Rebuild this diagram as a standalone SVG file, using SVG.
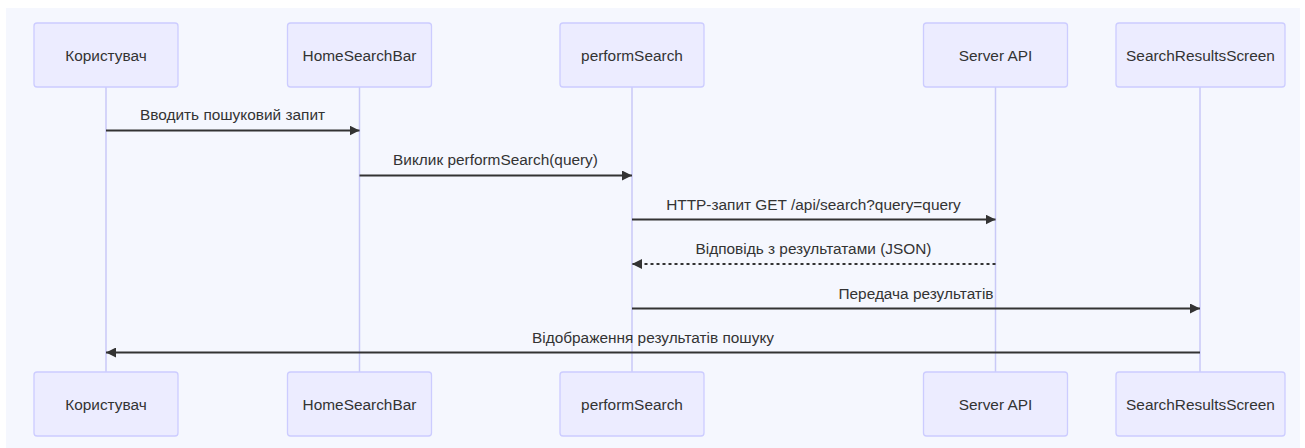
<svg xmlns="http://www.w3.org/2000/svg" width="1305" height="448" viewBox="0 0 1305 448">
<style>
.actor{fill:#ececff;stroke:#ccccff;stroke-width:1.3}
.atext{font-family:"Liberation Sans",Arial,sans-serif;font-size:15.4px;fill:#333;text-anchor:middle}
.mtext{font-family:"Liberation Sans",Arial,sans-serif;font-size:15.4px;fill:#333;text-anchor:middle}
.life{stroke:#c9c9f7;stroke-width:1.5;fill:none}
.msg{stroke:#333;stroke-width:1.9;fill:none}
.dash{stroke-dasharray:3,3}
</style>
<defs>
<marker id="arrow" viewBox="0 0 10 10" refX="10" refY="5" markerWidth="10" markerHeight="10" markerUnits="userSpaceOnUse" orient="auto">
<path d="M0,0 L10,5 L0,10 z" fill="#333"/>
</marker>
</defs>
<rect x="0" y="0" width="1305" height="448" fill="#ffffff"/>
<rect x="6" y="8" width="1294" height="440" fill="#f5f7fe"/>
<g id="lifelines">
<line class="life" x1="106" y1="87" x2="106" y2="372"/>
<line class="life" x1="359.5" y1="87" x2="359.5" y2="372"/>
<line class="life" x1="632" y1="87" x2="632" y2="372"/>
<line class="life" x1="995.5" y1="87" x2="995.5" y2="372"/>
<line class="life" x1="1200" y1="87" x2="1200" y2="372"/>
</g>
<g id="actor-user">
<rect class="actor" x="34" y="23" width="144" height="64" rx="3"/>
<text class="atext" x="106" y="60.5">Користувач</text>
<rect class="actor" x="34" y="372" width="144" height="64" rx="3"/>
<text class="atext" x="106" y="409.5">Користувач</text>
</g>
<g id="actor-homesearchbar">
<rect class="actor" x="287.5" y="23" width="144" height="64" rx="3"/>
<text class="atext" x="359.5" y="60.5">HomeSearchBar</text>
<rect class="actor" x="287.5" y="372" width="144" height="64" rx="3"/>
<text class="atext" x="359.5" y="409.5">HomeSearchBar</text>
</g>
<g id="actor-performsearch">
<rect class="actor" x="560" y="23" width="144" height="64" rx="3"/>
<text class="atext" x="632" y="60.5">performSearch</text>
<rect class="actor" x="560" y="372" width="144" height="64" rx="3"/>
<text class="atext" x="632" y="409.5">performSearch</text>
</g>
<g id="actor-serverapi">
<rect class="actor" x="923.5" y="23" width="144" height="64" rx="3"/>
<text class="atext" x="995.5" y="60.5">Server API</text>
<rect class="actor" x="923.5" y="372" width="144" height="64" rx="3"/>
<text class="atext" x="995.5" y="409.5">Server API</text>
</g>
<g id="actor-searchresultsscreen">
<rect class="actor" x="1116" y="23" width="169" height="64" rx="3"/>
<text class="atext" x="1200.5" y="60.5">SearchResultsScreen</text>
<rect class="actor" x="1116" y="372" width="169" height="64" rx="3"/>
<text class="atext" x="1200.5" y="409.5">SearchResultsScreen</text>
</g>
<g id="messages">
<text class="mtext" x="232.5" y="120">Вводить пошуковий запит</text>
<line class="msg" x1="106" y1="130.5" x2="359.5" y2="130.5" marker-end="url(#arrow)"/>
<text class="mtext" x="495.5" y="165">Виклик performSearch(query)</text>
<line class="msg" x1="359.5" y1="175.5" x2="632" y2="175.5" marker-end="url(#arrow)"/>
<text class="mtext" x="813.5" y="209.5">HTTP-запит GET /api/search?query=query</text>
<line class="msg" x1="632" y1="219.5" x2="995.5" y2="219.5" marker-end="url(#arrow)"/>
<text class="mtext" x="813.5" y="254">Відповідь з результатами (JSON)</text>
<line class="msg dash" x1="995.5" y1="264" x2="632" y2="264" marker-end="url(#arrow)"/>
<text class="mtext" x="916" y="298.5">Передача результатів</text>
<line class="msg" x1="632" y1="308.5" x2="1200" y2="308.5" marker-end="url(#arrow)"/>
<text class="mtext" x="653" y="342.5">Відображення результатів пошуку</text>
<line class="msg" x1="1200" y1="352.5" x2="106" y2="352.5" marker-end="url(#arrow)"/>
</g>
</svg>
